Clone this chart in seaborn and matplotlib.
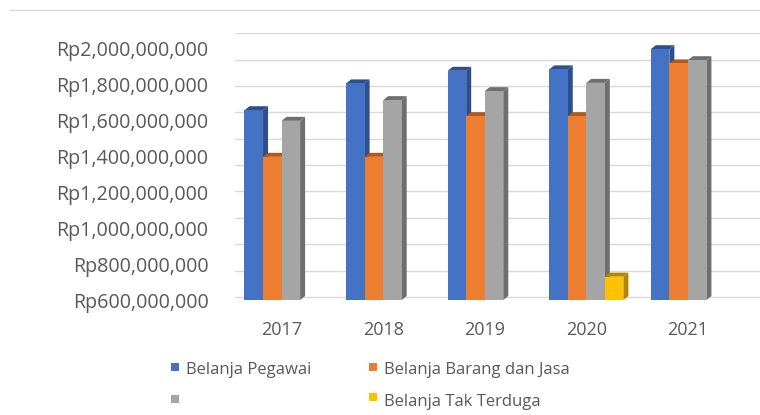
import numpy as np
import pandas as pd
import matplotlib
matplotlib.use('Agg')
import matplotlib.pyplot as plt
import matplotlib.ticker as mticker
from matplotlib.patches import Rectangle, Polygon
from matplotlib.lines import Line2D
import seaborn as sns

# values (rupiah)
years = ['2017', '2018', '2019', '2020', '2021']
series = ['Belanja Pegawai', 'Belanja Barang dan Jasa', 'Belanja Modal', 'Belanja Tak Terduga']
pegawai = [1655e6, 1804e6, 1874e6, 1882e6, 1994e6]
barang_jasa = [1396e6, 1396e6, 1622e6, 1622e6, 1915e6]
modal = [1596e6, 1711e6, 1761e6, 1807e6, 1933e6]
tak_terduga = [0, 0, 0, 730e6, 0]
colors = ['#4472C4', '#ED7D31', '#A5A5A5', '#FFC000']
side_colors = ['#2E4F8C', '#B05A1E', '#6F6F6F', '#B38600']
y_ticks = [600e6, 800e6, 1000e6, 1200e6, 1400e6, 1600e6, 1800e6, 2000e6]

df = pd.DataFrame({
    'Tahun': years * 4,
    'Jenis': np.repeat(series, len(years)),
    'Nilai': pegawai + barang_jasa + modal + tak_terduga,
})

sns.set_style('white')
plt.rcParams['font.family'] = ['Open Sans', 'DejaVu Sans']

fig = plt.figure(figsize=(7.6, 4.15), dpi=100)
ax = fig.add_axes([0.309, 0.277, 0.691, 0.643])

sns.barplot(data=df, x='Tahun', y='Nilai', hue='Jenis',
            palette=colors, width=0.73, saturation=1,
            linewidth=0, edgecolor='none',
            legend=False, ax=ax, zorder=3)

ymin, ymax = 600e6, 2083e6
ax.set_ylim(ymin, ymax)
ax.set_xlim(-0.46, 4.71)

# fake the 3D look: a dark side face and top face behind each bar
dx = 5 / 101.5
dy = 4 * (ymax - ymin) / 267
for i, bar in enumerate(ax.patches):
    h = bar.get_height()
    if h <= ymin:
        continue
    x0 = bar.get_x()
    x1 = x0 + bar.get_width()
    c = side_colors[i // len(years)]
    ax.add_patch(Polygon([(x1, ymin), (x1 + dx, ymin + dy), (x1 + dx, h + dy), (x1, h)],
                         closed=True, facecolor=c, edgecolor='none', zorder=2.9))
    ax.add_patch(Polygon([(x0, h), (x0 + dx, h + dy), (x1 + dx, h + dy), (x1, h)],
                         closed=True, facecolor=c, edgecolor='none', zorder=2.9))

ax.set_yticks(y_ticks)
ax.yaxis.set_major_formatter(mticker.FuncFormatter(lambda v, p: f'Rp{v:,.0f}'))
# back-wall gridlines of the original 3D chart do not sit on the labels
ax.set_yticks(np.arange(617e6, 2090e6, 146.6e6), minor=True)
ax.grid(axis='y', which='minor', color='#D9D9D9', lw=1, zorder=0)
ax.grid(axis='y', which='major', visible=False)
ax.tick_params(axis='y', which='both', length=0, pad=19, labelsize=14.2, labelcolor='#595959')
ax.tick_params(axis='x', length=0, pad=15, labelsize=13, labelcolor='#595959')
ax.set_xlabel('')
ax.set_ylabel('')
sns.despine(ax=ax, left=True, bottom=True)

# thin rule at the top of the cropped picture
fig.add_artist(Line2D([10 / 760, 1], [1 - 10 / 415, 1 - 10 / 415], color='#D9D9D9', lw=1))

# legend, laid out as in the cropped original
legend_items = [
    (171, 363, colors[0], 'Belanja Pegawai', 370),
    (369, 363, colors[1], 'Belanja Barang dan Jasa', 370),
    (171, 395, colors[2], '', 400),
    (369, 393, colors[3], 'Belanja Tak Terduga', 402),
]
for x, y, c, label, ty in legend_items:
    fig.add_artist(Rectangle((x / 760, 1 - (y + 8) / 415), 8 / 760, 8 / 415,
                             facecolor=c, edgecolor='none', transform=fig.transFigure))
    if label:
        fig.text((x + 15) / 760, 1 - ty / 415, label, fontsize=12,
                 color='#595959', va='center', ha='left')

fig.savefig('out.png', dpi=100)
